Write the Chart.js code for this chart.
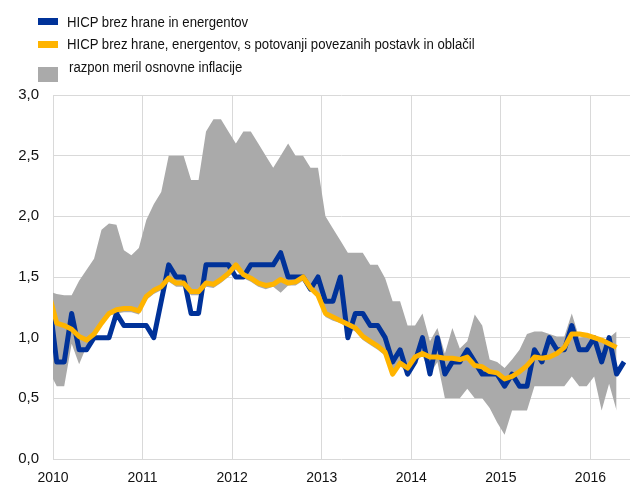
<!DOCTYPE html>
<html lang="sl">
<head>
  <meta charset="UTF-8">
  <title>Osnovna inflacija</title>
  <script src="https://cdn.jsdelivr.net/npm/chart.js"></script>
  <style>
    body { margin: 0; background: #fff; font-family: "Liberation Sans", Arial, sans-serif; }
    #wrap { position: relative; width: 633px; height: 489px; }
    canvas { position: absolute; left: 0; top: 0; }
    .sw { position: absolute; left: 38px; width: 20px; }
    .txt {
      position: absolute; font-size: 14px; line-height: 16px; color: #111;
      white-space: nowrap; transform: scaleX(0.94); transform-origin: left top;
    }
  </style>
</head>
<body>
  <div id="wrap">
    <canvas id="chart" width="633" height="489"></canvas>
    <div class="sw" style="top:18px;height:7px;background:#003299"></div>
    <div class="txt" style="left:67px;top:14px">HICP brez hrane in energentov</div>
    <div class="sw" style="top:41px;height:7px;background:#FFB400"></div>
    <div class="txt" style="left:67px;top:36px">HICP brez hrane, energentov, s potovanji povezanih postavk in oblačil</div>
    <div class="sw" style="top:67px;height:15px;background:#AAAAAA"></div>
    <div class="txt" style="left:69px;top:59px">razpon meril osnovne inflacije</div>
  </div>

  <script>
    // monthly data, first value = December 2009 (clipped at the left edge)
    const firstMonth = '2009-12';

    // HICP brez hrane in energentov (Dec 2009 - May 2016)
    const hicpCore = [
      1.3,
      0.8, 0.8, 1.2, 0.9, 0.9, 1.0, 1.0, 1.0, 1.2, 1.1, 1.1, 1.1,
      1.1, 1.0, 1.3, 1.6, 1.5, 1.5, 1.2, 1.2, 1.6, 1.6, 1.6, 1.6,
      1.5, 1.5, 1.6, 1.6, 1.6, 1.6, 1.7, 1.5, 1.5, 1.5, 1.4, 1.5,
      1.3, 1.3, 1.5, 1.0, 1.2, 1.2, 1.1, 1.1, 1.0, 0.8, 0.9, 0.7,
      0.8, 1.0, 0.7, 1.0, 0.7, 0.8, 0.8, 0.9, 0.8, 0.7, 0.7, 0.7,
      0.6, 0.7, 0.6, 0.6, 0.9, 0.8, 1.0, 0.9, 0.9, 1.1, 0.9, 0.9,
      1.0, 0.8, 1.0, 0.7, 0.8
    ];

    // HICP brez hrane, energentov, potovanj in oblacil (Dec 2009 - Apr 2016)
    const hicpNarrow = [
      1.35,
      1.12, 1.10, 1.07, 1.01, 0.98, 1.03, 1.12, 1.20, 1.23, 1.24, 1.24, 1.22,
      1.34, 1.39, 1.42, 1.49, 1.45, 1.45, 1.38, 1.38, 1.45, 1.44, 1.48, 1.53,
      1.60, 1.52, 1.49, 1.45, 1.43, 1.44, 1.48, 1.45, 1.46, 1.50, 1.41, 1.35,
      1.20, 1.17, 1.14, 1.11, 1.08, 1.01, 0.97, 0.93, 0.88, 0.70, 0.79, 0.75,
      0.84, 0.87, 0.84, 0.84, 0.83, 0.83, 0.82, 0.84, 0.77, 0.76, 0.72, 0.71,
      0.66, 0.68, 0.72, 0.77, 0.84, 0.83, 0.84, 0.87, 0.92, 1.03, 1.03, 1.02,
      1.00, 0.98, 0.95, 0.92
    ];

    // razpon meril osnovne inflacije: zgornja in spodnja meja
    const rangeHigh = [
      1.38,
      1.36, 1.35, 1.35, 1.47, 1.56, 1.65, 1.89, 1.94, 1.93, 1.72, 1.68, 1.74,
      1.97, 2.10, 2.20, 2.50, 2.50, 2.50, 2.30, 2.30, 2.70, 2.80, 2.80, 2.70,
      2.60, 2.70, 2.70, 2.60, 2.50, 2.40, 2.50, 2.60, 2.50, 2.50, 2.40, 2.40,
      2.00, 1.90, 1.80, 1.70, 1.70, 1.70, 1.60, 1.60, 1.49, 1.30, 1.30, 1.10,
      1.10, 1.20, 0.97, 1.08, 0.87, 1.08, 0.91, 0.97, 1.19, 1.10, 0.82, 0.80,
      0.75, 0.82, 0.90, 1.03, 1.05, 1.05, 1.03, 1.01, 1.01, 1.20, 1.00, 1.01,
      0.97, 0.97, 1.00, 1.05
    ];
    const rangeLow = [
      0.72,
      0.60, 0.60, 0.95, 0.78, 0.93, 1.00, 1.10, 1.18, 1.20, 1.21, 1.21, 1.19,
      1.31, 1.36, 1.39, 1.46, 1.42, 1.42, 1.35, 1.35, 1.42, 1.41, 1.45, 1.50,
      1.56, 1.49, 1.46, 1.42, 1.40, 1.42, 1.37, 1.43, 1.43, 1.47, 1.39, 1.33,
      1.17, 1.14, 1.12, 1.08, 1.05, 0.98, 0.94, 0.90, 0.85, 0.68, 0.77, 0.70,
      0.80, 0.85, 0.70, 0.80, 0.50, 0.50, 0.50, 0.58, 0.50, 0.50, 0.42, 0.30,
      0.20, 0.40, 0.40, 0.40, 0.60, 0.60, 0.60, 0.60, 0.60, 0.68, 0.60, 0.60,
      0.68, 0.40, 0.62, 0.40
    ];

    const yearLabels = ['2010', '2011', '2012', '2013', '2014', '2015', '2016'];
    const yTickValues = [0, 0.5, 1, 1.5, 2, 2.5, 3];
    const yTickLabels = ['0,0', '0,5', '1,0', '1,5', '2,0', '2,5', '3,0'];

    // x = months since Jan 2010, points sit mid-month
    const startOffset = -1; // firstMonth is one month before Jan 2010
    function toPoints(arr) {
      return arr.map((v, i) => ({ x: startOffset + i + 0.5, y: v }));
    }

    const gridColor = '#d9d9d9';
    const fontFamily = '"Liberation Sans", Arial, sans-serif';

    new Chart(document.getElementById('chart').getContext('2d'), {
      type: 'line',
      data: {
        datasets: [
          {
            label: 'HICP brez hrane, energentov, s potovanji povezanih postavk in oblačil',
            data: toPoints(hicpNarrow),
            borderColor: '#FFB400', borderWidth: 5, order: 0
          },
          {
            label: 'HICP brez hrane in energentov',
            data: toPoints(hicpCore),
            borderColor: '#003299', borderWidth: 5, order: 1
          },
          {
            label: 'razpon meril osnovne inflacije',
            data: toPoints(rangeHigh),
            borderWidth: 0, borderColor: 'rgba(0,0,0,0)',
            backgroundColor: '#AAAAAA', fill: '+1', order: 2
          },
          {
            label: 'spodnja meja',
            data: toPoints(rangeLow),
            borderWidth: 0, borderColor: 'rgba(0,0,0,0)', fill: false, order: 3
          }
        ]
      },
      options: {
        responsive: false,
        animation: false,
        devicePixelRatio: 1,
        layout: { padding: { top: 95, right: 3, left: 0, bottom: 0 } },
        elements: {
          point: { radius: 0, hoverRadius: 0 },
          line: { tension: 0, borderJoinStyle: 'round', borderCapStyle: 'butt' }
        },
        datasets: { line: { clip: 0 } },
        plugins: { legend: { display: false }, tooltip: { enabled: false } },
        scales: {
          x: {
            type: 'linear',
            min: 0,
            max: 77.3,
            afterBuildTicks: axis => { axis.ticks = yearLabels.map((_, i) => ({ value: i * 12 })); },
            afterFit: scale => { scale.height = 30; },
            ticks: {
              autoSkip: false, maxRotation: 0, padding: 11, color: '#111',
              font: { family: fontFamily, size: 14 },
              callback: value => yearLabels[value / 12]
            },
            grid: { color: gridColor, lineWidth: 1, drawTicks: false },
            border: { display: false }
          },
          y: {
            min: 0,
            max: 3,
            afterBuildTicks: axis => { axis.ticks = yTickValues.map(v => ({ value: v })); },
            afterFit: scale => { scale.width = 53; },
            ticks: {
              padding: 14, color: '#111',
              font: { family: fontFamily, size: 15 },
              callback: (value, index) => yTickLabels[index]
            },
            grid: { color: gridColor, lineWidth: 1, drawTicks: false },
            border: { display: false }
          }
        }
      }
    });
  </script>
</body>
</html>
